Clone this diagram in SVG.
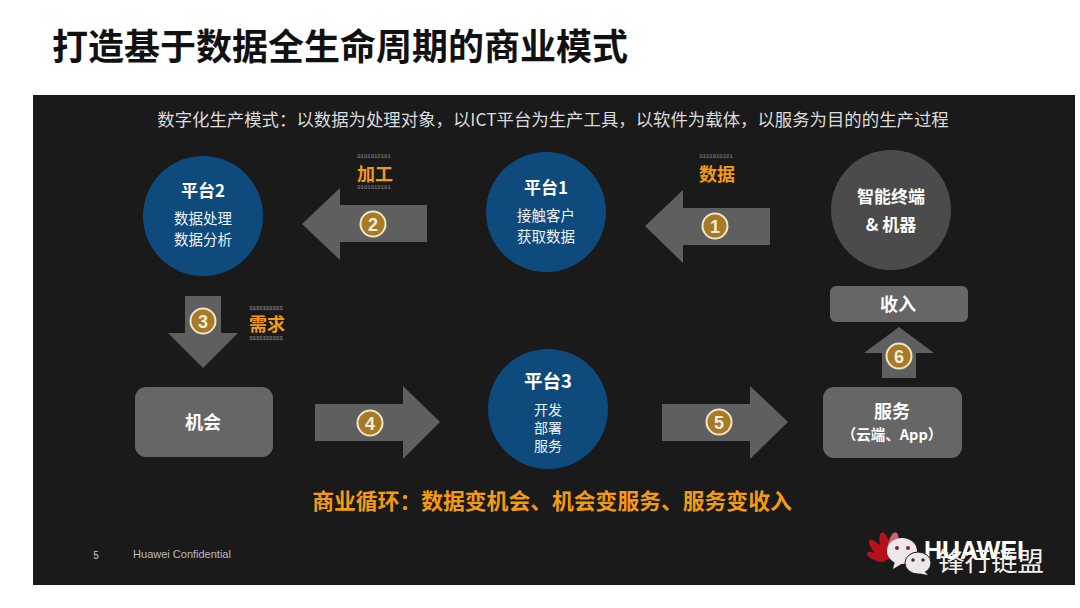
<svg xmlns="http://www.w3.org/2000/svg" width="1080" height="608" viewBox="0 0 1080 608">
<defs><style>
text{font-family:"Noto Sans CJK SC","Liberation Sans",sans-serif;text-anchor:middle}
.b{font-weight:700;fill:#fff}
.w{fill:#eef2f5}
.arrow{fill:#5f5f5f}
.blue{fill:#0f4a7d}
.box{fill:#666}
.badge{fill:#a67a28;stroke:#f3e6c4;stroke-width:2}
.num{font-family:"Liberation Sans",sans-serif;font-weight:700;font-size:18px;fill:#f5ecd5}
.or{font-weight:700;fill:#f29a12}
.bits{font-family:"Liberation Mono",monospace;font-size:5.600px;fill:#8a8a8a}
</style></defs>
<rect width="1080" height="608" fill="#fff"/>
<text x="340" y="60" font-size="36" font-weight="700" fill="#111">打造基于数据全生命周期的商业模式</text>
<rect x="33" y="95" width="1042" height="490" fill="#1a1a1a"/>
<text x="553" y="126" font-size="17.400" fill="#dcdcdc">数字化生产模式：以数据为处理对象，以ICT平台为生产工具，以软件为载体，以服务为目的的生产过程</text>
<g id="connectors">
<path class="arrow" d="M770 208H683V190L645 226L683 263V245H770Z"/>
<path class="arrow" d="M427 205H340V188L302 224L340 260V242H427Z"/>
<path class="arrow" d="M185 296H221V333H238L203 368L168 333H185Z"/>
<path class="arrow" d="M315 404H403V386L440 422L403 459V441H315Z"/>
<path class="arrow" d="M662 404H750V386L788 422L750 459V441H662Z"/>
<path class="arrow" d="M882 378H916V353H934L899 327L864 353H882Z"/>
<g id="b1"><circle class="badge" cx="715" cy="226" r="12.500"/><text class="num" x="715" y="232.500">1</text></g>
<g id="b2"><circle class="badge" cx="373" cy="224" r="12.500"/><text class="num" x="373" y="230.500">2</text></g>
<g id="b3"><circle class="badge" cx="203" cy="321" r="12.500"/><text class="num" x="203" y="327.500">3</text></g>
<g id="b4"><circle class="badge" cx="370" cy="423" r="12.500"/><text class="num" x="370" y="429.500">4</text></g>
<g id="b5"><circle class="badge" cx="719" cy="422" r="12.500"/><text class="num" x="719" y="428.500">5</text></g>
<g id="b6"><circle class="badge" cx="899" cy="356" r="12.500"/><text class="num" x="899" y="362.500">6</text></g>
</g>
<g id="label-data"><text class="bits" x="716" y="158">0101010101</text><text class="or" x="717" y="181" font-size="18">数据</text></g>
<g id="label-process"><text class="bits" x="374" y="158">0101010101</text><text class="or" x="375" y="181" font-size="18">加工</text><text class="bits" x="374" y="189">0101010101</text></g>
<g id="label-demand"><text class="bits" x="266" y="310">$$$$$$$$$$</text><text class="or" x="267" y="331" font-size="18">需求</text><text class="bits" x="266" y="340">$$$$$$$$$$</text></g>
<g id="node-platform2"><circle class="blue" cx="203" cy="216" r="60"/><text class="b" x="203" y="197" font-size="17">平台2</text><text class="w" x="203" y="224" font-size="14.500">数据处理</text><text class="w" x="203" y="245" font-size="14.500">数据分析</text></g>
<g id="node-platform1"><circle class="blue" cx="546" cy="212" r="60"/><text class="b" x="546" y="194" font-size="17">平台1</text><text class="w" x="546" y="221" font-size="14.500">接触客户</text><text class="w" x="546" y="242" font-size="14.500">获取数据</text></g>
<g id="node-terminal"><circle cx="891" cy="210" r="60" fill="#4b4b4b"/><text class="b" x="891" y="203" font-size="17">智能终端</text><text class="b" x="891" y="231" font-size="17">&amp; 机器</text></g>
<g id="node-revenue"><rect class="box" x="830" y="286" width="138" height="36" rx="6"/><text class="b" x="898" y="311" font-size="18">收入</text></g>
<g id="node-opportunity"><rect class="box" x="135" y="387" width="138" height="70" rx="11"/><text class="b" x="203" y="429" font-size="18">机会</text></g>
<g id="node-platform3"><circle class="blue" cx="548" cy="409" r="60"/><text class="b" x="548" y="388" font-size="18.500">平台3</text><text class="w" x="548" y="415" font-size="14">开发</text><text class="w" x="548" y="433" font-size="14">部署</text><text class="w" x="548" y="451" font-size="14">服务</text></g>
<g id="node-service"><rect class="box" x="823" y="387" width="139" height="71" rx="11"/><text class="b" x="892" y="418" font-size="18">服务</text><text class="b" x="892" y="440" font-size="14.500">（云端、App）</text></g>
<text x="552" y="509" font-size="21.800" class="or">商业循环：数据变机会、机会变服务、服务变收入</text>
<text x="96" y="559" font-size="10" fill="#ccc" style="font-family:'Liberation Sans',sans-serif">5</text>
<text x="182" y="558" font-size="11" fill="#bbb" style="font-family:'Liberation Sans',sans-serif">Huawei Confidential</text>
<g id="logo">
<g fill="#b5121b"><ellipse cx="885" cy="546" rx="5" ry="14" transform="rotate(-12 885 546)"/><ellipse cx="878" cy="550" rx="4.500" ry="13" transform="rotate(-40 878 550)"/><ellipse cx="876" cy="557" rx="3.500" ry="10" transform="rotate(-68 876 557)"/><ellipse cx="893" cy="545" rx="5" ry="13" transform="rotate(12 893 545)" fill="#c9656b"/></g>
<text x="974" y="559" font-size="25" class="b" style="font-family:'Liberation Sans',sans-serif">HUAWEI</text>
<ellipse cx="902" cy="551" rx="15" ry="13" fill="#eee7ea"/><path d="M895 561L893 569L903 563Z" fill="#eee7ea"/>
<circle cx="897" cy="548" r="2" fill="#8a2030"/><circle cx="908" cy="548" r="2" fill="#8a2030"/>
<ellipse cx="918" cy="563" rx="13" ry="11" fill="#eee7ea" stroke="#1a1a1a"/><path d="M924 571L928 575L917 573Z" fill="#eee7ea"/>
<circle cx="913" cy="560" r="1.800" fill="#333"/><circle cx="923" cy="560" r="1.800" fill="#333"/>
<text x="991" y="571" font-size="26.500" fill="#f2f2f2">锋行链盟</text>
</g>
</svg>
